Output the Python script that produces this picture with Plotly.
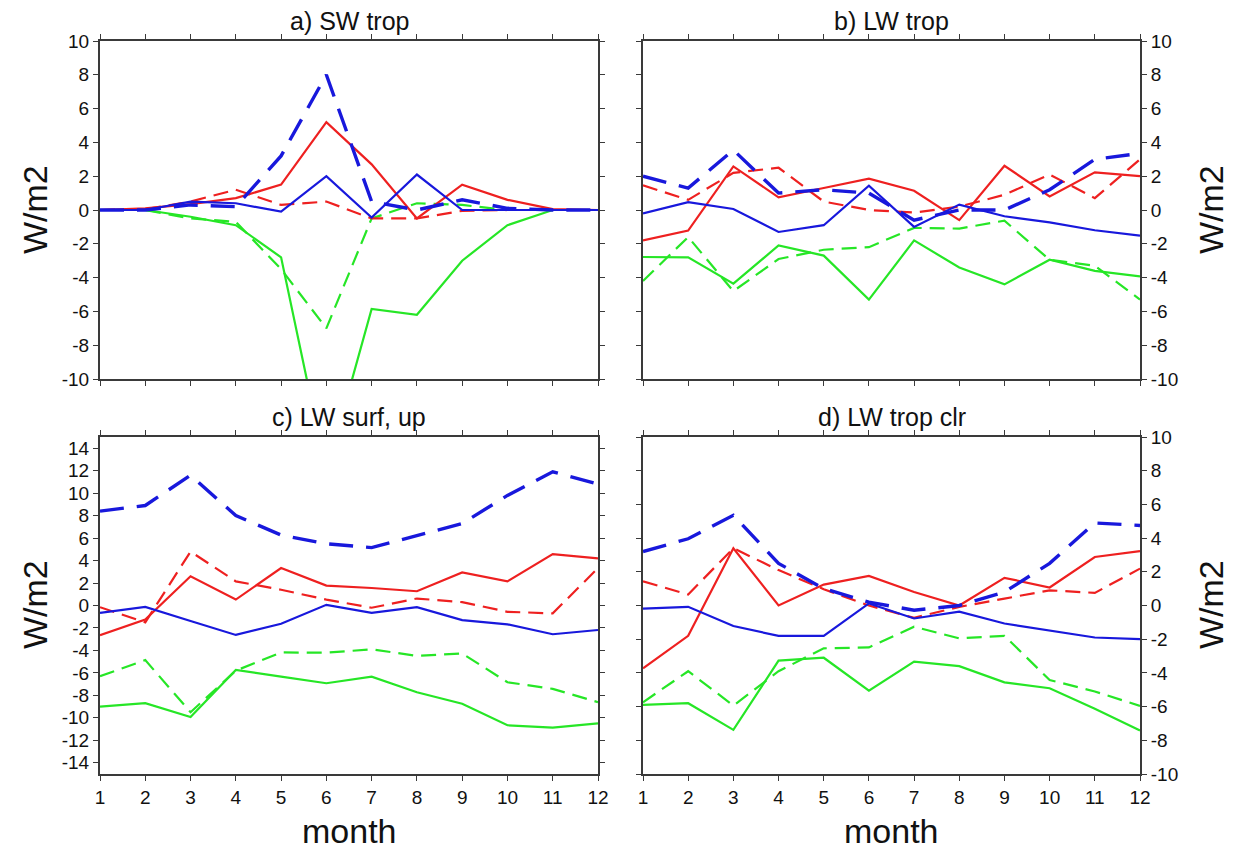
import plotly.graph_objects as go

months = list(range(1, 13))
month_labels = [str(m) for m in months]

# Panel a) SW trop
a_blue_solid = [0, 0, 0.5, 0.4, -0.1, 2.0, -0.45, 2.1, 0, 0, 0, 0]
a_blue_dash = [0, 0, 0.3, 0.2, 3.2, 8.0, 0.5, 0, 0.6, 0.1, 0, 0]
a_red_solid = [0, 0.1, 0.35, 0.7, 1.5, 5.2, 2.7, -0.5, 1.5, 0.6, 0.05, 0]
a_red_dash = [0, 0.05, 0.5, 1.2, 0.3, 0.5, -0.5, -0.5, -0.05, 0, 0, 0]
a_green_solid = [0, 0, -0.4, -0.9, -2.8, -15.5, -5.85, -6.2, -3.0, -0.9, 0, 0]
a_green_dash = [0, 0, -0.5, -0.7, -3.5, -7.0, -0.5, 0.4, 0.3, 0, 0, 0]

# Panel b) LW trop
b_blue_solid = [-0.2, 0.47, 0.06, -1.3, -0.9, 1.44, -1.0, 0.32, -0.37, -0.73, -1.2, -1.52]
b_blue_dash = [2.0, 1.3, 3.55, 1.0, 1.2, 1.0, -0.6, 0.0, 0.0, 1.2, 3.0, 3.35]
b_red_solid = [-1.8, -1.22, 2.58, 0.75, 1.3, 1.85, 1.14, -0.6, 2.62, 0.8, 2.23, 2.0]
b_red_dash = [1.46, 0.6, 2.2, 2.5, 0.5, 0.0, -0.15, 0.2, 0.9, 2.1, 0.7, 3.0]
b_green_solid = [-2.78, -2.8, -4.36, -2.1, -2.7, -5.3, -1.8, -3.4, -4.4, -2.94, -3.6, -3.93]
b_green_dash = [-4.2, -1.6, -4.8, -2.9, -2.35, -2.2, -1.06, -1.1, -0.63, -2.95, -3.3, -5.3]

# Panel c) LW surf, up
c_blue_solid = [-0.65, -0.12, -1.38, -2.62, -1.62, 0.06, -0.65, -0.15, -1.3, -1.68, -2.56, -2.18]
c_blue_dash = [8.4, 8.9, 11.6, 8.0, 6.27, 5.5, 5.15, 6.2, 7.3, 9.8, 11.9, 10.8]
c_red_solid = [-2.65, -1.24, 2.6, 0.53, 3.33, 1.77, 1.56, 1.27, 2.95, 2.15, 4.57, 4.2]
c_red_dash = [-0.15, -1.5, 4.8, 2.15, 1.4, 0.53, -0.2, 0.62, 0.3, -0.56, -0.7, 3.33]
c_green_solid = [-9.0, -8.7, -9.93, -5.74, -6.33, -6.92, -6.33, -7.72, -8.75, -10.66, -10.87, -10.5]
c_green_dash = [-6.3, -4.86, -9.5, -5.8, -4.18, -4.2, -3.9, -4.48, -4.27, -6.83, -7.42, -8.6]

# Panel d) LW trop clr
d_blue_solid = [-0.18, -0.08, -1.22, -1.8, -1.8, 0.12, -0.77, -0.37, -1.07, -1.5, -1.9, -2.0]
d_blue_dash = [3.2, 3.96, 5.35, 2.5, 1.0, 0.2, -0.28, 0.0, 0.8, 2.5, 4.9, 4.75]
d_red_solid = [-3.73, -1.8, 3.4, 0.0, 1.24, 1.75, 0.8, 0.0, 1.64, 1.07, 2.88, 3.23]
d_red_dash = [1.44, 0.65, 3.4, 2.1, 0.97, 0.0, -0.73, -0.08, 0.41, 0.9, 0.75, 2.19]
d_green_solid = [-5.9, -5.8, -7.38, -3.27, -3.1, -5.05, -3.33, -3.6, -4.56, -4.91, -6.13, -7.42]
d_green_dash = [-5.74, -3.9, -5.94, -3.9, -2.54, -2.49, -1.26, -1.95, -1.8, -4.42, -5.1, -5.96]

panel_titles = ["a) SW trop", "b) LW trop", "c) LW surf, up", "d) LW trop clr"]
yticks_10 = list(range(-10, 11, 2))
yticks_14 = list(range(-14, 15, 2))

RED = "#ee2020"
BLUE = "#1818dc"
GREEN = "#26e626"

# page body has an 8px margin; size the figure to fit the 1238x853 window
OFF = 8
W, H = 1238 - OFF, 853 - OFF
px = lambda v: (v - OFF) / W
py = lambda v: 1 - (v - OFF) / H

xdom_left = [px(100), px(598)]
xdom_right = [px(643), px(1140)]
ydom_top = [py(379), py(41)]
ydom_bot = [py(774), py(437)]

fig = go.Figure()

panels = [
    (1, xdom_left, ydom_top, "left", False, [-10, 10], yticks_10,
     [a_blue_solid, a_blue_dash, a_red_solid, a_red_dash, a_green_solid, a_green_dash]),
    (2, xdom_right, ydom_top, "right", False, [-10, 10], yticks_10,
     [b_blue_solid, b_blue_dash, b_red_solid, b_red_dash, b_green_solid, b_green_dash]),
    (3, xdom_left, ydom_bot, "left", True, [-15, 15], yticks_14,
     [c_blue_solid, c_blue_dash, c_red_solid, c_red_dash, c_green_solid, c_green_dash]),
    (4, xdom_right, ydom_bot, "right", True, [-10, 10], yticks_10,
     [d_blue_solid, d_blue_dash, d_red_solid, d_red_dash, d_green_solid, d_green_dash]),
]

styles = [
    dict(color=GREEN, width=2.2, dash="solid"),
    dict(color=GREEN, width=2.2, dash="15px,8px"),
    dict(color=RED, width=2.2, dash="solid"),
    dict(color=RED, width=2.2, dash="15px,8px"),
    dict(color=BLUE, width=2.2, dash="solid"),
    dict(color=BLUE, width=3.4, dash="24px,13px"),
]

FONT = "Liberation Sans, Arial, Helvetica, sans-serif"
FRAME = "#3a3a3a"

for i, xd, yd, side, showx, yr, yt, series in panels:
    bs, bd, rs, rd, gs, gd = series
    order = [gs, gd, rs, rd, bs, bd]
    xa = "x" if i == 1 else f"x{i}"
    ya = "y" if i == 1 else f"y{i}"
    for s, st in zip(order, styles):
        fig.add_trace(go.Scatter(x=months, y=s, mode="lines", line=st,
                                 xaxis=xa, yaxis=ya, showlegend=False, hoverinfo="skip"))
    xkey = "xaxis" if i == 1 else f"xaxis{i}"
    ykey = "yaxis" if i == 1 else f"yaxis{i}"
    fig.layout[xkey] = dict(
        domain=xd, anchor=ya, range=[1, 12], tickvals=months, ticktext=month_labels,
        showticklabels=showx, ticks="outside", ticklen=5, tickwidth=1.2, tickcolor=FRAME,
        showline=True, linewidth=2, linecolor=FRAME, mirror="ticks",
        showgrid=False, zeroline=False, automargin=False,
        tickfont=dict(family=FONT, size=19, color="#111"),
    )
    fig.layout[ykey] = dict(
        domain=yd, anchor=xa, range=yr, tickvals=yt, ticktext=[str(v) for v in yt],
        side=side, ticks="outside", ticklen=5, tickwidth=1.2, tickcolor=FRAME,
        showline=True, linewidth=2, linecolor=FRAME, mirror="ticks",
        showgrid=False, zeroline=False, automargin=False,
        tickfont=dict(family=FONT, size=19, color="#111"),
    )

annotations = []
centers = [(349, 41), (891.5, 41), (349, 437), (891.5, 437)]
for t, (cx, ty) in zip(panel_titles, centers):
    annotations.append(dict(text=t, x=px(cx), y=py(ty), xref="paper", yref="paper",
                            xanchor="center", yanchor="bottom", showarrow=False, yshift=4,
                            font=dict(family=FONT, size=25, color="#111")))
for cx, cy in [(35, 210), (35, 605), (1211, 210), (1211, 605)]:
    annotations.append(dict(text="W/m2", x=px(cx), y=py(cy), xref="paper", yref="paper",
                            xanchor="center", yanchor="middle", showarrow=False, textangle=-90,
                            font=dict(family=FONT, size=34, color="#111")))
for cx in [349, 891.5]:
    annotations.append(dict(text="month", x=px(cx), y=py(831), xref="paper", yref="paper",
                            xanchor="center", yanchor="middle", showarrow=False,
                            font=dict(family=FONT, size=34, color="#111")))

fig.update_layout(
    template="none",
    width=W, height=H, margin=dict(l=0, r=0, t=0, b=0, pad=0, autoexpand=False),
    paper_bgcolor="white", plot_bgcolor="white", annotations=annotations,
    showlegend=False,
)

fig.write_html("out.html")
